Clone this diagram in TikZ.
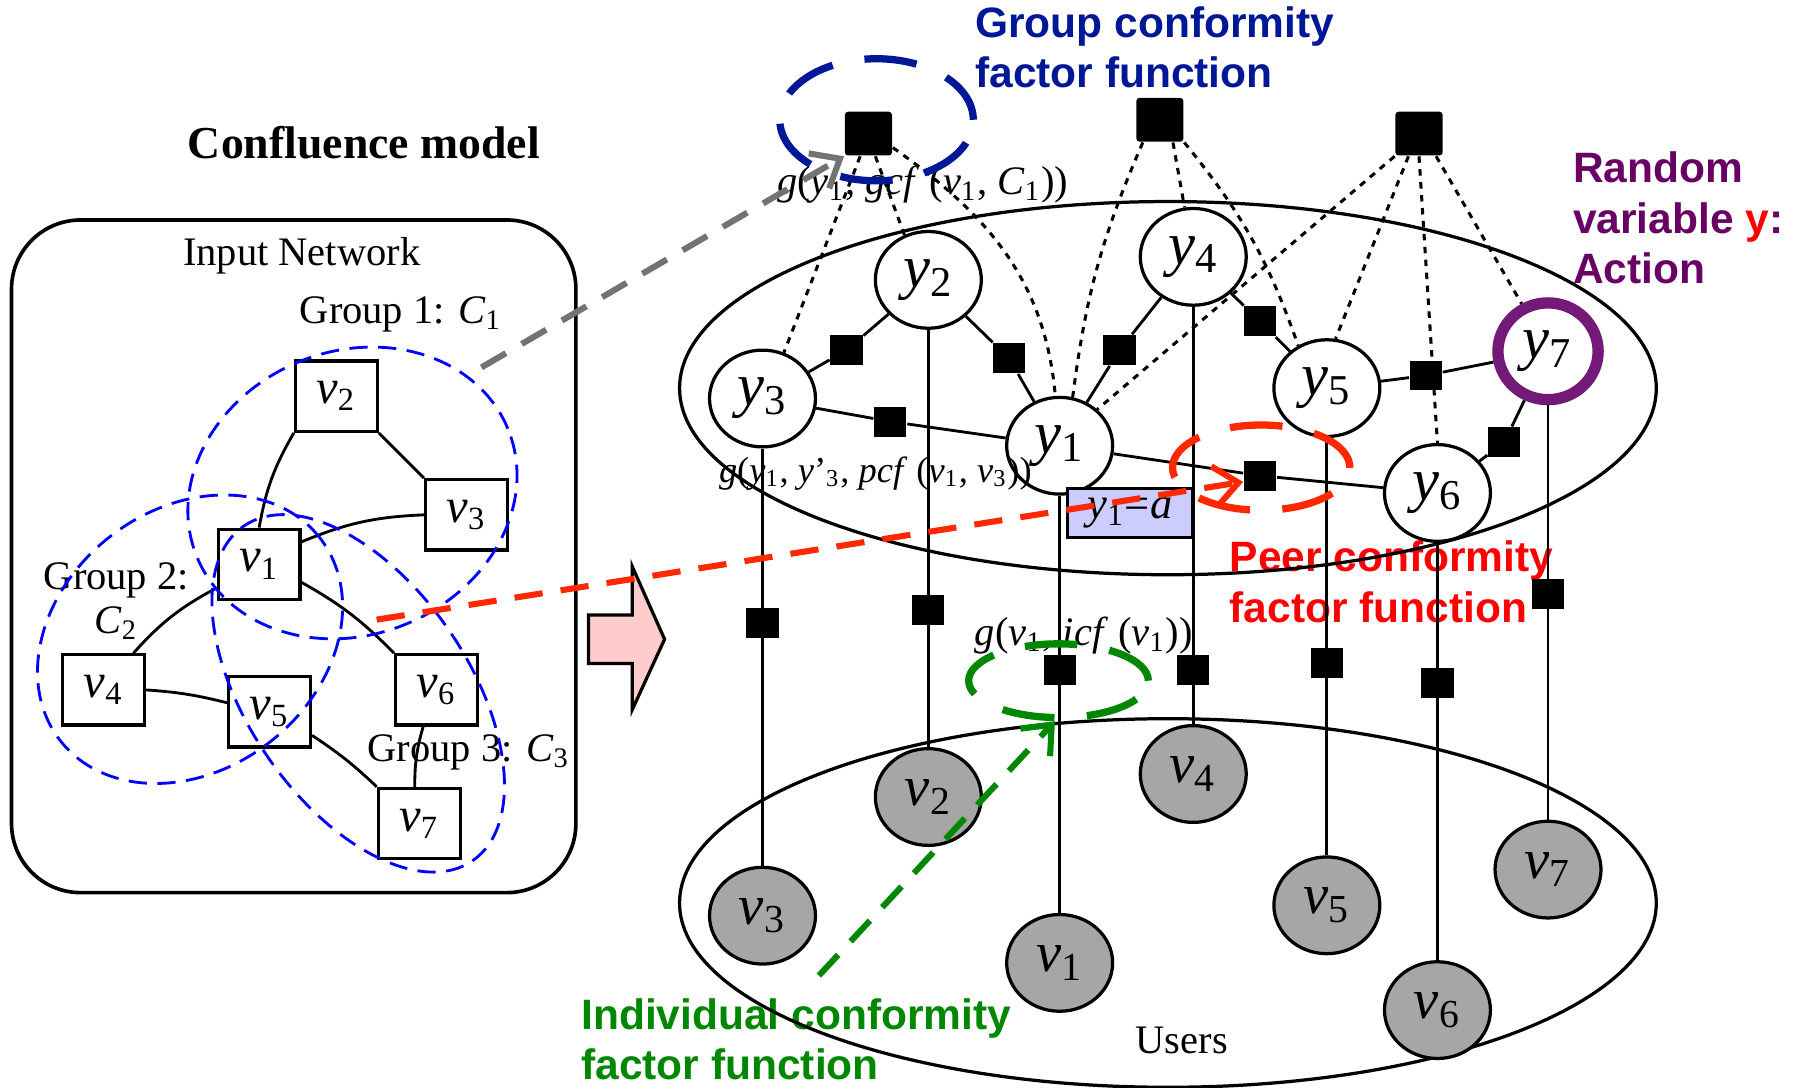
\documentclass[tikz,border=0pt]{standalone}
\usepackage{fontspec}
\setmainfont{Liberation Serif}
\newfontfamily\tagfont{Liberation Sans}
\usepackage{xcolor}
\usepackage{tikz}
\usetikzlibrary{
  shapes.geometric, arrows.meta, positioning, calc
}
\definecolor{grpblue}{RGB}{0,0,255}
\definecolor{gcfnavy}{RGB}{0,24,150}
\definecolor{pcfred}{RGB}{255,40,0}
\definecolor{icfgreen}{RGB}{0,135,0}
\definecolor{actpurple}{RGB}{105,0,100}
\definecolor{ringpurple}{RGB}{115,25,120}
\definecolor{usergray}{RGB}{166,166,166}
\definecolor{obsblue}{RGB}{204,204,255}
\definecolor{shiftpink}{RGB}{255,204,204}
\definecolor{hintgray}{RGB}{115,115,115}
\newcommand{\ivar}[2]{\textit{#1}\textsubscript{#2}}

\begin{document}
\begin{tikzpicture}[
  netbox/.style={rectangle, draw, line width=0.8pt, fill=white,
    minimum width=0.71cm, minimum height=0.61cm, inner sep=0pt,
    font=\fontsize{12}{14}\selectfont},
  grp/.style={draw=grpblue, line width=0.7pt,
    dash pattern=on 4.5pt off 2.6pt},
  link/.style={line width=0.7pt},
  yvar/.style={ellipse, draw, line width=0.8pt, fill=white,
    minimum width=0.92cm, minimum height=0.84cm, inner sep=0pt,
    font=\fontsize{15}{18}\selectfont},
  user/.style={yvar, fill=usergray, font=\fontsize{14}{17}\selectfont},
  fac/.style={rectangle, fill=black, minimum width=0.28cm,
    minimum height=0.26cm, inner sep=0pt},
  gfac/.style={fac, minimum width=0.41cm, minimum height=0.38cm,
    rounded corners=0.8pt},
  dotlink/.style={line width=0.75pt, dash pattern=on 1.6pt off 1.6pt},
  ring/.style={ellipse, line width=1.8pt, inner sep=0pt,
    dash pattern=on 13pt off 8pt},
  hint/.style={line width=1.5pt, dash pattern=on 7pt off 4.5pt,
    -{Straight Barb[length=6pt, width=10pt]}},
  tag/.style={font=\tagfont\bfseries\fontsize{10.5}{12.5}\selectfont,
    align=left, anchor=north west, inner sep=0pt},
  fn/.style={font=\fontsize{10}{12}\selectfont, inner sep=0pt}
]
\useasboundingbox (0,0) rectangle (15.68,9.44);

% Input network (left)
\draw[line width=0.9pt, rounded corners=0.6cm] (0.10,1.69) rectangle (5.00,7.53);
\node[font=\bfseries\fontsize{11.3}{13}\selectfont] (title) at (3.16,8.20)
  {Confluence model};
\node[fn] (inet) at (2.62,7.22) {Input Network};
\node[fn] (g1lbl) at (3.48,6.71) {Group 1: \ivar{C}{1}};
\node[fn, font=\fontsize{10}{11}\selectfont, align=center] (g2lbl) at (1.01,4.22)
  {Group 2:\\\ivar{C}{2}};
\node[fn] (g3lbl) at (4.07,2.91) {Group 3: \ivar{C}{3}};

\node[netbox] (v1) at (2.25,4.54) {\ivar{v}{1}};
\node[netbox] (v2) at (2.92,6.00) {\ivar{v}{2}};
\node[netbox] (v3) at (4.05,4.97) {\ivar{v}{3}};
\node[netbox] (v4) at (0.90,3.45) {\ivar{v}{4}};
\node[netbox] (v5) at (2.34,3.26) {\ivar{v}{5}};
\node[netbox] (v6) at (3.79,3.45) {\ivar{v}{6}};
\node[netbox] (v7) at (3.64,2.29) {\ivar{v}{7}};

\draw[link] (v2.south west) to[bend right=10] (v1.north);
\draw[link] (v2.south east) -- (v3.north west);
\draw[link] (v1.28) to[bend left=10] (v3.west);
\draw[link] (v1.209) to[bend right=10] (v4.51);
\draw[link] (v1.337) to[bend left=8] (v6.north west);
\draw[link] (v4.east) to[bend left=5] (v5.168);
\draw[link] (v5.331) to[bend left=5] (v7.north west);
\draw[link] (v6.250) to[bend right=8] (v7.97);

% Groups
\draw[grp, rotate around={22.5:(3.06,5.16)}] (3.06,5.16)
  ellipse [x radius=1.46, y radius=1.23];
\draw[grp, rotate around={38:(1.65,3.89)}] (1.65,3.89)
  ellipse [x radius=1.43, y radius=1.13];
\draw[grp, rotate around={-55.7:(3.11,3.42)}] (3.11,3.42)
  ellipse [x radius=1.76, y radius=0.96];

% Shift arrow
\draw[line width=0.8pt, fill=shiftpink] (5.11,4.10) -- (5.49,4.10)
  -- (5.49,4.52) -- (5.77,3.89) -- (5.49,3.28) -- (5.49,3.68)
  -- (5.11,3.68) -- cycle;

% Callouts
\node[tag, text=gcfnavy] (gcfTag) at (8.46,9.39)
  {Group conformity\\factor function};
\node[tag, text=actpurple] (actTag) at (13.65,8.13)
  {Random\\variable {\color{red}y}:\\Action};
\node[tag, text=red] (pcfTag) at (10.67,4.75)
  {Peer conformity\\factor function};
\node[tag, text=icfgreen] (icfTag) at (5.04,0.78)
  {Individual conformity\\factor function};

% Layers
\node[ellipse, draw, line width=0.8pt, minimum width=8.48cm,
  minimum height=3.24cm] (actLayer) at (10.14,6.07) {};
\node[ellipse, draw, line width=0.8pt, minimum width=8.48cm,
  minimum height=3.20cm] (userLayer) at (10.14,1.60) {};
\node[fn] (usersLbl) at (10.26,0.41) {Users};

% Action variables
\node[yvar] (y1) at (9.20,5.57) {\ivar{y}{1}};
\node[yvar] (y2) at (8.06,7.01) {\ivar{y}{2}};
\node[yvar] (y3) at (6.62,5.98) {\ivar{y}{3}};
\node[yvar] (y4) at (10.36,7.21) {\ivar{y}{4}};
\node[yvar] (y5) at (11.52,6.07) {\ivar{y}{5}};
\node[yvar] (y6) at (12.48,5.16) {\ivar{y}{6}};
\node[yvar, draw=ringpurple, line width=2.8pt, minimum width=0.87cm,
  minimum height=0.84cm] (y7) at (13.44,6.39) {\ivar{y}{7}};

% Users
\node[user] (u1) at (9.20,1.08) {\ivar{v}{1}};
\node[user] (u2) at (8.06,2.52) {\ivar{v}{2}};
\node[user] (u3) at (6.62,1.49) {\ivar{v}{3}};
\node[user] (u4) at (10.36,2.72) {\ivar{v}{4}};
\node[user] (u5) at (11.52,1.58) {\ivar{v}{5}};
\node[user] (u6) at (12.48,0.67) {\ivar{v}{6}};
\node[user] (u7) at (13.44,1.89) {\ivar{v}{7}};

\foreach \i in {1,...,7}
  \draw[link] (y\i) -- (u\i);
\foreach \i/\fx/\fy in {1/9.20/3.62, 2/8.06/4.14, 3/6.62/4.03,
    4/10.36/3.62, 5/11.52/3.68, 6/12.48/3.51, 7/13.44/4.28}
  \node[fac] (f\i) at (\fx,\fy) {};

% Group factors
\node[gfac] (gA) at (7.54,8.28) {};
\node[gfac] (gB) at (10.07,8.40) {};
\node[gfac] (gC) at (12.32,8.28) {};

\draw[dotlink] (gA.250) -- (y3.65);
\draw[dotlink] (gA.287) -- (y2.118);
\draw[dotlink] (gA.330) to[out=-35, in=95] (y1.95);
\draw[dotlink] (gB.233) to[bend right=8] (y1.75);
\draw[dotlink] (gB.300) -- (y4.100);
\draw[dotlink] (gB.south east) to[bend left=10] (y5.124);
\draw[dotlink] (gC.south west) -- (y1.44);
\draw[dotlink] (gC.245) -- (y5.80);
\draw[dotlink] (gC.south) -- (y6.north);
\draw[dotlink] (gC.307) -- (y7.119);

% Peer factors
\node[fac] (p32) at (7.35,6.40) {};
\node[fac] (p21) at (8.76,6.33) {};
\node[fac] (p31) at (7.73,5.78) {};
\node[fac] (p14) at (9.72,6.40) {};
\node[fac] (p45) at (10.94,6.65) {};
\node[fac] (p57) at (12.38,6.18) {};
\node[fac] (p76) at (13.06,5.60) {};
\node[fac] (p16) at (10.94,5.31) {};

\draw[link] (y3) -- (p32) -- (y2);
\draw[link] (y2) -- (p21) -- (y1);
\draw[link] (y3) -- (p31) -- (y1);
\draw[link] (y1) -- (p14) -- (y4);
\draw[link] (y4) -- (p45) -- (y5);
\draw[link] (y5) -- (p57) -- (y7);
\draw[link] (y7) -- (p76) -- (y6);
\draw[link] (y1) -- (p16) -- (y6);

% Factor labels
\node[fn] (gcfLbl) at (8.01,7.84)
  {\textit{g}(\ivar{y}{1}, \textit{gcf} (\ivar{v}{1}, \ivar{C}{1}))};
\node[fn, font=\fontsize{9}{11}\selectfont] (pcfLbl) at (7.60,5.33)
  {\textit{g}(\ivar{y}{1}, \textit{y}'\textsubscript{3}, \textit{pcf} (\ivar{v}{1}, \ivar{v}{3}))};
\node[fn] (icfLbl) at (9.41,3.92)
  {\textit{g}(\ivar{v}{1}, \textit{icf} (\ivar{v}{1}))};
\node[draw, fill=obsblue, line width=0.8pt, minimum width=1.09cm,
  minimum height=0.43cm, inner sep=0pt, font=\fontsize{11}{13}\selectfont]
  (obs) at (9.81,4.985) {\ivar{y}{1}=\textit{a}};

% Highlights
\node[ring, draw=gcfnavy, minimum width=1.68cm, minimum height=1.06cm]
  (gcfRing) at (7.61,8.40) {};
\node[ring, draw=pcfred, minimum width=1.54cm, minimum height=0.74cm]
  (pcfRing) at (10.95,5.38) {};
\node[ring, draw=icfgreen, minimum width=1.56cm, minimum height=0.64cm]
  (icfRing) at (9.19,3.53) {};

\coordinate (netG1) at (4.18,6.25);
\coordinate (netV1) at (3.27,4.06);
\coordinate (icfFrom) at (7.11,0.97);
\draw[hint, hintgray] (netG1) -- (gA.south west);
\draw[hint, pcfred] (netV1) -- (p16.200);
\draw[hint, icfgreen] (icfFrom) -- (icfRing.265);
\end{tikzpicture}
\end{document}
